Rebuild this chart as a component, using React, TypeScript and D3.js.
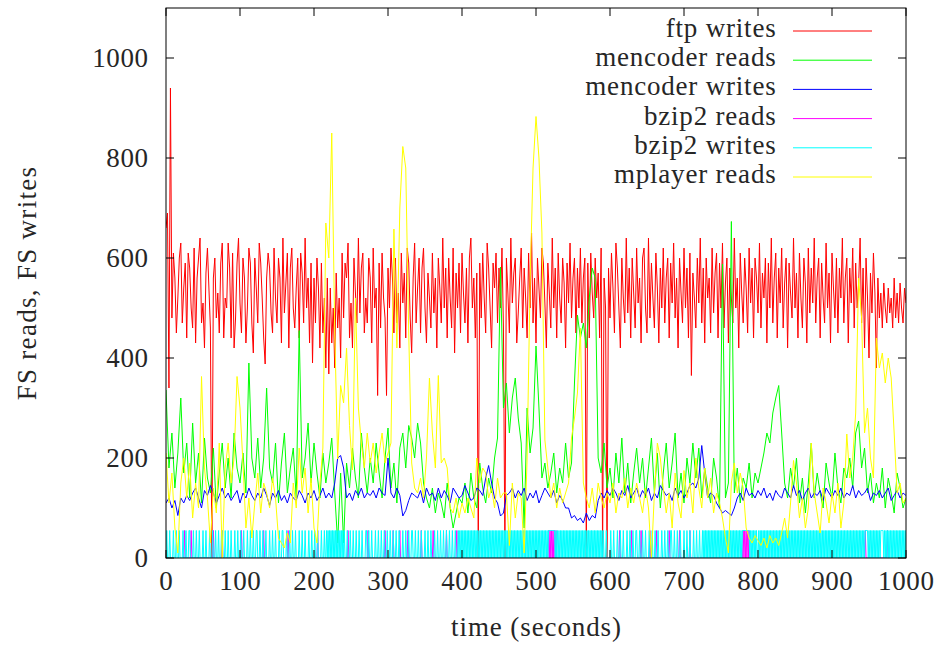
import React from "react";
import * as d3 from "d3";

// ---------------- DATA ----------------
const ftpInterval = 2; // seconds between ftp samples
const ftpWrites = [
  660, 690, 340, 940, 480, 610, 560, 450, 520, 600,
  630, 470, 540, 590, 440, 610, 580, 500, 460, 620,
  430, 560, 600, 640, 470, 510, 420, 570, 620, 540,
  460, 0, 560, 600, 480, 530, 450, 590, 630, 440,
  520, 500, 630, 580, 440, 610, 420, 480, 590, 640,
  510, 450, 600, 560, 430, 500, 620, 590, 470, 410,
  600, 540, 470, 630, 590, 520, 440, 388, 560, 610,
  580, 490, 450, 620, 520, 470, 600, 560, 430, 640,
  490, 550, 610, 420, 580, 620, 500, 460, 540, 600,
  440, 610, 570, 470, 640, 500, 560, 430, 590, 390,
  560, 470, 600, 540, 420, 590, 450, 520, 380, 560,
  368, 540, 430, 500, 380, 570, 460, 520, 400, 610,
  480, 590, 560, 630, 440, 510, 420, 600, 530, 470,
  640, 490, 580, 610, 450, 520, 470, 600, 560, 430,
  620, 500, 540, 325, 590, 460, 610, 520, 480, 325,
  580, 500, 620, 560, 450, 600, 470, 530, 420, 610,
  510, 570, 440, 620, 590, 480, 410, 560, 630, 470,
  540, 600, 450, 580, 620, 500, 430, 570, 520, 460,
  610, 490, 560, 420, 600, 540, 470, 640, 500, 580,
  440, 600, 520, 460, 620, 410, 570, 500, 590, 450,
  610, 530, 470, 580, 430, 600, 640, 500, 560, 440,
  570, 0, 590, 480, 610, 520, 450, 630, 580, 500,
  420, 590, 540, 610, 470, 580, 500, 620, 460, 0,
  600, 530, 450, 640, 510, 570, 600, 430, 490, 560,
  620, 460, 580, 520, 440, 610, 500, 650, 470, 560,
  430, 600, 540, 480, 620, 590, 510, 420, 590, 530,
  460, 640, 500, 580, 440, 610, 520, 470, 600, 550,
  420, 590, 510, 630, 480, 560, 600, 450, 580, 500,
  620, 470, 560, 600, 0, 590, 440, 610, 530, 480,
  600, 520, 570, 440, 620, 0, 560, 500, 0, 580,
  480, 610, 540, 450, 630, 580, 500, 420, 600, 520,
  470, 640, 490, 580, 440, 600, 530, 460, 620, 510,
  560, 430, 600, 620, 500, 450, 640, 480, 590, 520,
  460, 610, 540, 430, 580, 500, 620, 470, 560, 600,
  440, 590, 510, 630, 480, 560, 420, 600, 530, 470,
  620, 500, 580, 440, 610, 365, 570, 520, 460, 600,
  510, 640, 470, 580, 430, 600, 520, 560, 450, 620,
  490, 570, 610, 440, 590, 500, 630, 460, 550, 600,
  430, 580, 520, 470, 640, 500, 560, 420, 610, 530,
  470, 600, 540, 450, 620, 510, 580, 440, 600, 560,
  490, 630, 460, 570, 520, 600, 430, 590, 500, 640,
  470, 560, 610, 440, 580, 510, 620, 460, 550, 600,
  420, 590, 530, 480, 640, 500, 570, 440, 610, 520,
  460, 600, 550, 430, 620, 490, 580, 510, 640, 470,
  560, 600, 440, 590, 520, 470, 630, 500, 570, 430,
  610, 540, 480, 600, 450, 580, 520, 640, 470, 560,
  600, 430, 580, 510, 620, 460, 590, 500, 550, 640,
  470, 580, 420, 600, 520, 400, 570, 490, 610, 530,
  380, 560, 480, 530, 460, 550, 500, 470, 540, 490,
  520, 460, 560, 480, 530, 470, 550, 500, 470, 540,
  510,
];

const sampleInterval = 4; // seconds between mencoder / mplayer samples
const mencoderReads = [
  336, 180, 250, 140, 210, 320, 170, 230, 120, 270,
  150, 210, 110, 240, 160, 130, 220, 100, 170, 230,
  140, 200, 120, 250, 180, 150, 210, 130, 390, 200,
  160, 240, 140, 200, 340, 180, 150, 230, 110, 190,
  250, 130, 180, 220, 120, 455, 160, 200, 270, 150,
  230, 170, 120, 210, 150, 190, 240, 130, 30, 170,
  30, 190, 140, 220, 160, 120, 250, 180, 130, 200,
  150, 230, 170, 120, 200, 260, 140, 190, 110, 220,
  250, 180, 265, 240, 200, 270, 230, 150, 120, 100,
  140, 90, 130, 110, 80, 150, 100, 60, 90, 120,
  110, 150, 90, 170, 120, 100, 190, 140, 110, 160,
  130, 200, 240, 582, 300, 350, 250, 320, 360, 280,
  230, 60, 300, 210, 260, 424, 300, 160, 190, 140,
  170, 210, 130, 180, 150, 230, 160, 190, 350, 486,
  440, 470, 420, 520, 580, 560, 200, 170, 230, 140,
  180, 120, 210, 150, 240, 130, 190, 110, 170, 220,
  150, 200, 120, 180, 240, 130, 210, 100, 170, 230,
  140, 190, 250, 120, 170, 110, 200, 150, 230, 160,
  220, 120, 180, 140, 110, 200, 160, 100, 588, 120,
  150, 673, 130, 180, 110, 160, 140, 190, 120, 170,
  150, 180, 210, 250, 230, 290, 320, 345, 250, 150,
  120, 180, 140, 200, 110, 160, 90, 150, 230, 120,
  170, 130, 100, 190, 150, 120, 210, 140, 110, 180,
  160, 200, 140, 250, 274, 180, 220, 130, 170, 110,
  150, 120, 180, 100, 160, 130, 90, 170, 140, 100, 120,
];

const mencoderWrites = [
  110, 120, 100, 115, 85, 120, 110, 125, 115, 130,
  140, 120, 100, 135, 125, 145, 130, 110, 125, 140,
  120, 130, 115, 125, 135, 110, 130, 120, 140, 125,
  115, 130, 120, 140, 125, 105, 130, 120, 135, 115,
  125, 110, 130, 120, 115, 135, 125, 110, 130, 120,
  135, 115, 125, 140, 120, 130, 120, 150, 200, 205,
  180, 120, 130, 115, 135, 125, 140, 120, 130, 125,
  135, 120, 140, 130, 125, 200, 130, 120, 140, 125,
  84, 95, 115, 130, 125, 120, 135, 110, 140, 125,
  130, 115, 140, 120, 135, 125, 110, 140, 130, 120,
  125, 145, 130, 115, 120, 140, 135, 125, 160, 185,
  150, 120, 110, 84, 90, 125, 130, 140, 120, 135,
  125, 140, 115, 130, 120, 135, 110, 125, 140, 130,
  120, 135, 110, 125, 115, 100, 100, 80, 85, 75,
  80, 70, 90, 75, 85, 80, 115, 130, 120, 135,
  125, 140, 130, 115, 135, 125, 145, 120, 130, 140,
  120, 135, 125, 140, 115, 130, 120, 145, 135, 125,
  130, 115, 140, 125, 135, 120, 130, 145, 150, 140,
  160, 225, 170, 120, 130, 125, 110, 100, 90, 95,
  90, 85, 100, 120, 130, 115, 140, 125, 130, 120,
  135, 125, 140, 120, 130, 115, 135, 125, 120, 140,
  130, 120, 145, 125, 135, 115, 130, 140, 120, 130,
  125, 135, 115, 140, 130, 120, 135, 125, 140, 120,
  130, 125, 145, 120, 135, 125, 130, 140, 115, 130,
  125, 135, 120, 130, 140, 115, 125, 135, 120, 130, 125,
];

const mplayerReads = [
  210, 110, 170, 60, 10, 150, 200, 120, 190, 80,
  150, 100, 363, 180, 120, 30, 140, 90, 230, 0,
  180, 230, 150, 200, 363, 300, 190, 60, 120, 40,
  110, 170, 90, 150, 130, 100, 160, 120, 40, 30,
  20, 50, 30, 150, 100, 220, 130, 180, 90, 160,
  60, 30, 150, 220, 670, 600, 850, 456, 198, 345,
  310, 420, 265, 176, 520, 300, 230, 180, 250, 190,
  230, 170, 210, 250, 190, 210, 230, 658, 420, 700,
  823, 780, 450, 190, 140, 130, 160, 120, 200, 360,
  250, 180, 365, 190, 200, 180, 100, 90, 120, 80,
  110, 90, 120, 100, 80, 200, 150, 180, 170, 120,
  140, 100, 160, 120, 130, 130, 25, 150, 80, 130,
  120, 10, 200, 550, 780, 883, 800, 650, 236, 180,
  120, 150, 100, 140, 110, 130, 150, 240, 280, 330,
  460, 150, 120, 100, 140, 90, 150, 120, 100, 130,
  110, 150, 90, 130, 120, 160, 100, 140, 110, 150,
  120, 90, 140, 100, 0, 130, 230, 200, 140, 90,
  130, 60, 170, 110, 80, 175, 120, 150, 90, 200,
  140, 100, 180, 120, 160, 90, 130, 110, 80, 40,
  10, 150, 190, 130, 170, 140, 60, 40, 30, 45,
  35, 25, 40, 20, 45, 30, 40, 25, 50, 80,
  40, 110, 195, 150, 80, 120, 60, 100, 230, 130,
  90, 50, 140, 110, 70, 130, 90, 150, 60, 110,
  248, 160, 200, 290, 560, 480, 250, 300, 200, 160,
  440, 380, 410, 350, 400, 360, 250, 130, 150, 110, 120,
];

// bzip2 activity: one character per second, "1" = bzip2Level, "0" = idle
const bzip2Level = 55;
const bzip2Writes: [number, string][] = [
  [0, "0100010000 1000100010 0001000100 0110000100 0100010000 1000100001 0001000100 0100011000 1000100010 0001000100"],
  [100, "0100010000 1000100010 0011000100 0100010000 1000100010 0001000110 0001000100 0100010000 1000100010 0001000100"],
  [200, "0100010000 1000100101 0101010101 0101010101 0100010001 0001000100 0100010000 1100100010 0001000100 0100010001"],
  [300, "0001000100 0100010000 1000100010 0011000100 0100010000 1000100010 0001000100 0100010001 0001000100 0100010101"],
  [400, "0101010101 0101010101 0101010101 0101010101 0101010101 0101010101 0101010101 0101010101 0101010101 0101010101"],
  [500, "0101010101 0101010111 1111110101 0101010101 0101010101 0101010101 0101010101 0101010101 0101010101 0100010000"],
  [600, "0100010000 1000100010 0001000100 0100011000 1000100010 0001000100 0100010000 1000100010 0011000100 0100010000"],
  [700, "1000100010 0001000100 0100010101 0101010101 0101010101 0101010101 0101010101 0101010101 1111111110 1010101010"],
  [800, "0101010101 0101010101 0101010101 0101010101 0101010101 0101010101 0101010101 0101010101 0101010101 0101010101"],
  [900, "0101010101 0101010101 0101010101 0101010101 0101011110 1010101010 1010101111 0101010101 0101010101 0101010101 0"],
];
const bzip2Reads: [number, string][] = [
  [24, "010"], [33, "010"], [63, "010"], [75, "010"], [101, "010"], [131, "010"],
  [164, "010"], [204, "010"], [245, "010"], [272, "010"], [295, "010"], [306, "010"],
  [315, "010"], [326, "010"], [344, "010"], [360, "010"], [378, "010"], [392, "010"],
  [516, "0101010101010"], [612, "010"], [628, "010"], [641, "010"], [653, "010"],
  [662, "010"], [679, "010"], [693, "010"], [707, "010"],
  [779, "01010101010"], [944, "010"], [974, "010"],
];

const xTicks = [0, 100, 200, 300, 400, 500, 600, 700, 800, 900, 1000];
const yTicks = [0, 200, 400, 600, 800, 1000];
const seriesNames = ["ftp writes", "mencoder reads", "mencoder writes", "bzip2 reads", "bzip2 writes", "mplayer reads"];
const seriesColors = ["#ff0000", "#00ff00", "#0000ff", "#ff00ff", "#00ffff", "#ffff00"];
const xLabel = "time (seconds)";
const yLabel = "FS reads, FS writes";

// ---------------- LAYOUT ----------------
const W = 946;
const H = 646;
const L = 166, R = 906, T = 8, B = 558;
const FONT = "'Liberation Serif', 'Times New Roman', serif";
const TEXT = "#262626";

type P = [number, number];
const toPoints = (vals: number[], step: number): P[] => vals.map((v, i) => [i * step, v]);
const patternPoints = (segs: [number, string][]): P[] => {
  const pts: P[] = [];
  for (const [start, pat] of segs) {
    const p = pat.replace(/\s/g, "");
    for (let j = 0; j < p.length; j++) pts.push([start + j, p[j] === "1" ? bzip2Level : 0]);
  }
  return pts;
};

export default function App() {
  const x = d3.scaleLinear().domain([0, 1000]).range([L, R]);
  const y = d3.scaleLinear().domain([0, 1100]).range([B, T]);
  const line = d3.line<P>().x((d) => x(d[0])).y((d) => y(d[1]));

  const series: P[][] = [
    toPoints(ftpWrites, ftpInterval),
    toPoints(mencoderReads, sampleInterval),
    toPoints(mencoderWrites, sampleInterval),
    patternPoints(bzip2Reads),
    patternPoints(bzip2Writes),
    toPoints(mplayerReads, sampleInterval),
  ];

  const tick = 8;
  const legendTop = 31;
  const legendStep = 29.2;

  return (
    <svg width={W} height={H} style={{ position: "absolute", left: 0, top: 0, background: "#fff" }}>
      <defs>
        <clipPath id="plotclip">
          <rect x={L} y={T} width={R - L} height={B - T} />
        </clipPath>
      </defs>
      <rect x={0} y={0} width={W} height={H} fill="#fff" />
      <g clipPath="url(#plotclip)">
        {series.map((pts, i) => (
          <path key={i} d={line(pts) || ""} fill="none" stroke={seriesColors[i]} strokeWidth={1} />
        ))}
      </g>
      {/* frame */}
      <rect x={L} y={T} width={R - L} height={B - T} fill="none" stroke="#000" strokeWidth={1} />
      {/* ticks */}
      {xTicks.map((t) => (
        <g key={"x" + t}>
          <line x1={x(t)} x2={x(t)} y1={B} y2={B - tick} stroke="#000" strokeWidth={1} />
          <line x1={x(t)} x2={x(t)} y1={T} y2={T + tick} stroke="#000" strokeWidth={1} />
          <text x={x(t) + 0.3} y={B + 32} textAnchor="middle" fontFamily={FONT} fontSize={27} letterSpacing={0.6} fill={TEXT}>
            {t}
          </text>
        </g>
      ))}
      {yTicks.map((t) => (
        <g key={"y" + t}>
          <line x1={L} x2={L + tick} y1={y(t)} y2={y(t)} stroke="#000" strokeWidth={1} />
          <line x1={R} x2={R - tick} y1={y(t)} y2={y(t)} stroke="#000" strokeWidth={1} />
          <text x={148.6} y={y(t) + 9} textAnchor="end" fontFamily={FONT} fontSize={27} letterSpacing={0.6} fill={TEXT}>
            {t}
          </text>
        </g>
      ))}
      <text x={(L + R) / 2 + 0.5} y={636} textAnchor="middle" fontFamily={FONT} fontSize={27} letterSpacing={0.9} fill={TEXT}>
        {xLabel}
      </text>
      <text
        transform={`translate(36, ${(T + B) / 2}) rotate(-90)`}
        textAnchor="middle"
        fontFamily={FONT}
        fontSize={27}
        letterSpacing={1.3}
        fill={TEXT}
      >
        {yLabel}
      </text>
      {/* legend */}
      {seriesNames.map((name, i) => {
        const ly = legendTop + i * legendStep;
        return (
          <g key={name}>
            <text x={776.5} y={ly + 6} textAnchor="end" fontFamily={FONT} fontSize={27} letterSpacing={0.8} fill={TEXT}>
              {name}
            </text>
            <line x1={793} x2={872} y1={ly} y2={ly} stroke={seriesColors[i]} strokeWidth={1} />
          </g>
        );
      })}
    </svg>
  );
}
